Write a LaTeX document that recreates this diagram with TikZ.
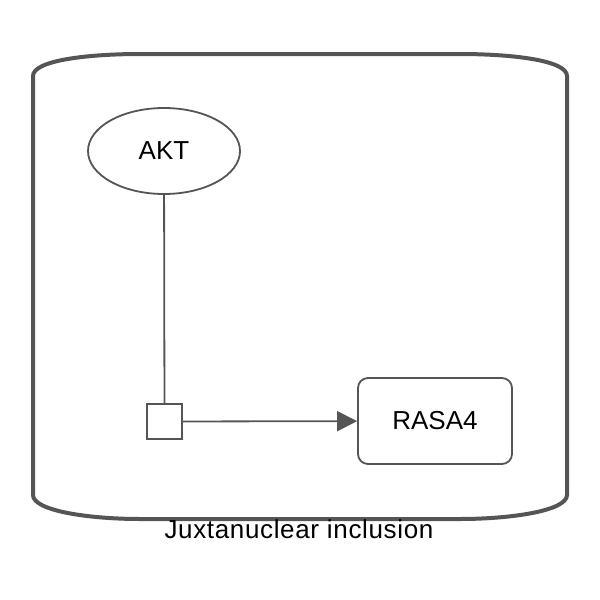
\documentclass[tikz,border=0pt]{standalone}
\usepackage{fontspec}
\setmainfont{Liberation Sans}
\usetikzlibrary{shapes.geometric,arrows.meta}
\definecolor{edgegray}{HTML}{555555}
\tikzset{
  compart/.style={draw=edgegray, line width=4pt},
  entity/.style={draw=edgegray, line width=1.8pt, fill=white, inner sep=0pt, font=\fontsize{26}{30}\selectfont},
  procbox/.style={draw=edgegray, line width=1.6pt, fill=white, inner sep=0pt, minimum size=35pt},
  link/.style={draw=edgegray, line width=1.8pt},
  lbl/.style={font=\fontsize{26}{30}\selectfont\addfontfeature{LetterSpace=2.5}, inner sep=0pt}
}
\begin{document}
\begin{tikzpicture}[x=1pt,y=-1pt]
\useasboundingbox (0,0) rectangle (600,600);
\path[compart] (33,495) -- (33,76) .. controls (33,60) and (90,54) .. (140,54) -- (460,54) .. controls (510,54) and (567,60) .. (567,76) -- (567,495) .. controls (567,511) and (510,519) .. (460,519) -- (140,519) .. controls (90,519) and (33,511) .. (33,495) -- cycle;
\node[lbl, anchor=base] (comp) at (299,538) {Juxtanuclear inclusion};
\node[entity, ellipse, minimum width=152pt, minimum height=86pt] (akt) at (164,151) {AKT};
\node[entity, rectangle, rounded corners=10pt, minimum width=154pt, minimum height=86pt] (rasa) at (435,421) {RASA4};
\node[procbox] (proc) at (164.5,421.5) {};
\draw[link] (akt) -- (proc);
\draw[link, -{Triangle[length=20pt,width=20pt]}] (proc) -- (rasa);
\end{tikzpicture}
\end{document}
